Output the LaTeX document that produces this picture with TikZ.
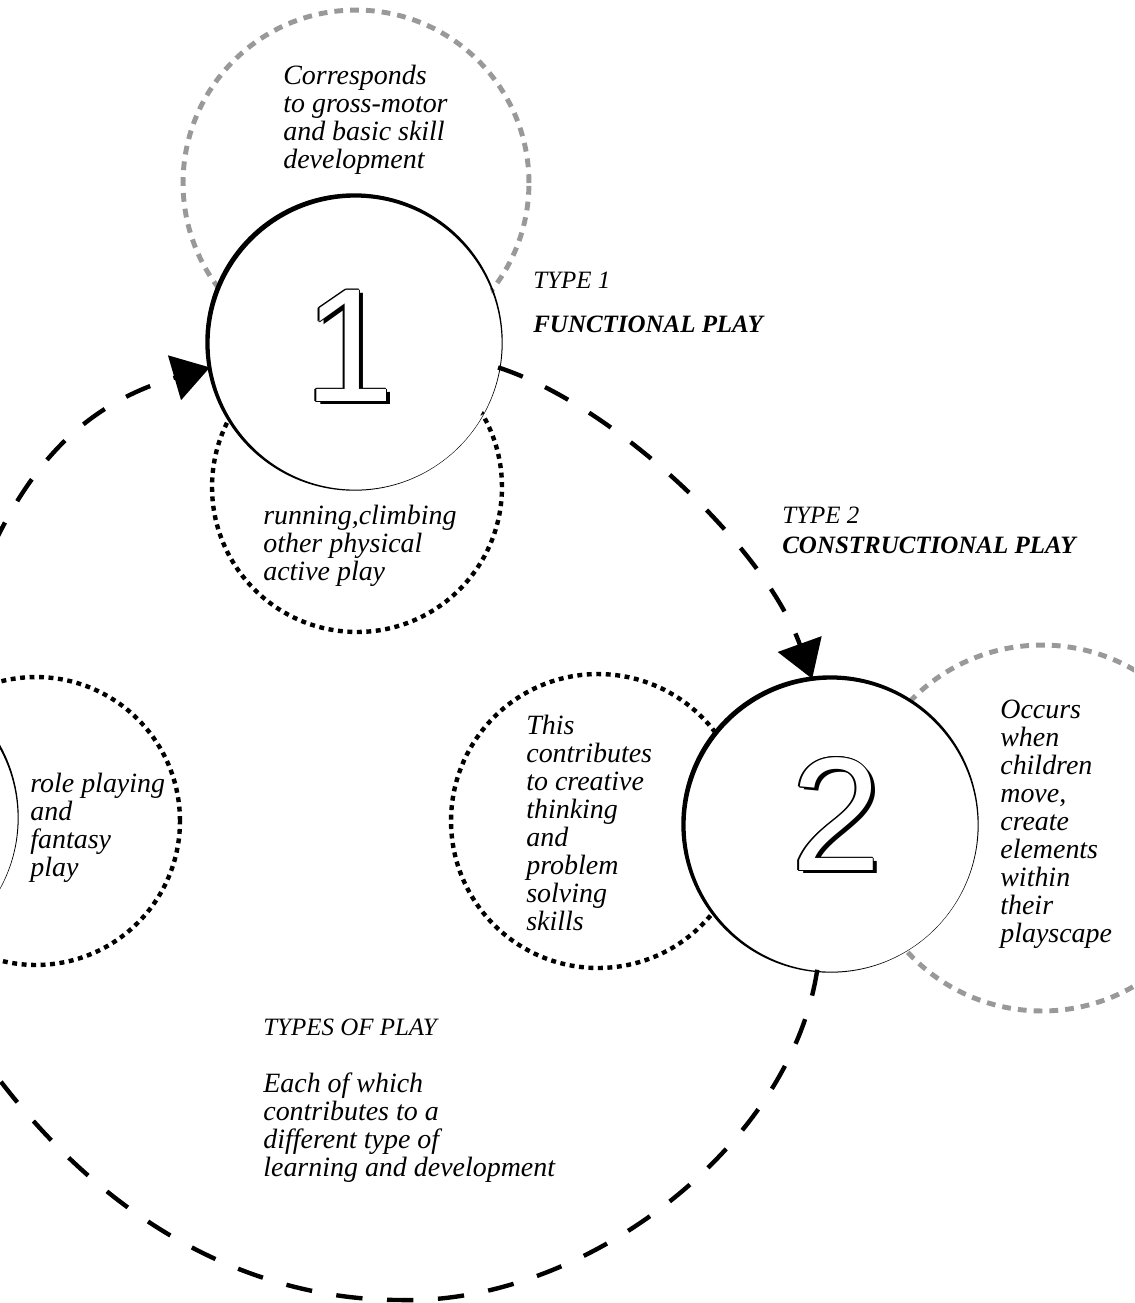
\documentclass[tikz,border=0pt]{standalone}
\usepackage{fontspec}
\setmainfont{Liberation Serif}
\newfontfamily\numfont{Liberation Sans}
\usetikzlibrary{arrows.meta, calc}

\newcommand{\ringstroke}[2]{%
  \fill[even odd rule] (#1) circle[radius=#2+2.7] ($(#1)+(1.63,1.63)$) circle[radius=#2];
}
\newcommand{\bignum}[3]{%
  \node[digit, text=black] (#1s) at ($#2+(4,3)$) {#3};
  \foreach \a in {0,45,...,315}
    \node[digit, text=black] (#1o\a) at ($#2+(\a:1.1)$) {#3};
  \node[digit, text=white] (#1) at ($#2$) {#3};
}

\begin{document}
\begin{tikzpicture}[x=0.02cm, y=-0.02cm,
    mainring/.style={circle, fill=white, inner sep=0pt, minimum size=5.84cm},
    dotring/.style={circle, draw, line width=2.5pt, dash pattern=on 2.8pt off 2.6pt, inner sep=0pt},
    grayring/.style={circle, draw=black!40, line width=2.8pt, dash pattern=on 5pt off 4pt, inner sep=0pt},
    flow/.style={line width=2.5pt, dash pattern=on 15pt off 14pt},
    tip/.style={-{Triangle[length=21pt, width=26pt]}},
    note/.style={font=\itshape\fontsize{15.9}{15.9}\selectfont, align=left, anchor=base west, inner sep=0pt},
    tag/.style={font=\itshape\fontsize{14.2}{17}\selectfont, align=left, anchor=base west, inner sep=0pt},
    digit/.style={font=\numfont\fontsize{92}{92}\selectfont, inner sep=0pt}
]
\useasboundingbox (0,0) rectangle (1134,1303);
\clip (0,0) rectangle (1134,1303);

\node[grayring, minimum size=6.92cm] (topc) at (356,183) {};
\node[dotring, minimum size=5.8cm] (runc) at (357,487) {};
\node[dotring, minimum size=5.88cm] (thinkc) at (598,821) {};
\node[grayring, minimum size=7.32cm] (movec) at (1042,828) {};
\node[dotring, minimum size=5.76cm] (rolec) at (36,821) {};

\node[mainring] (one) at (354,342) {};
\node[mainring] (two) at (830,824) {};
\node[mainring] (three) at (-130,817) {};
\ringstroke{one}{146}
\ringstroke{two}{146}
\ringstroke{three}{146}

\bignum{num1}{(one)+(-5,4)}{1}
\bignum{num2}{(two)+(6,-10)}{2}

\draw[flow, tip] (one.-10) .. controls (612,404) and (764,545) .. (two.97);
\draw[flow] (two.-95) .. controls (790,1150) and (580,1305) .. (400,1300)
  .. controls (250,1300) and (60,1220) .. (three.-70);
\draw[flow, tip] (three.60) .. controls (-6,495) and (64,410) .. (one.190);

\node[note] (corr) at (283,168) {Corresponds\\to gross-motor\\and basic skill\\development};
\node[tag] (type1) at (533,288) {TYPE 1};
\node[tag, font=\itshape\bfseries\fontsize{14.2}{17}\selectfont] (func) at (533,332) {FUNCTIONAL PLAY};
\node[note] (run) at (263,580) {running,climbing\\other physical\\active play};
\node[tag] (type2) at (782,553) {TYPE 2\\\textbf{CONSTRUCTIONAL PLAY}};
\node[note] (think) at (526,930) {This\\contributes\\to creative\\thinking\\and\\problem\\solving\\skills};
\node[note] (move) at (1000,942) {Occurs\\when\\children\\move,\\create\\elements\\within\\their\\playscape};
\node[note] (role) at (30,876) {role playing\\and\\fantasy\\play};
\node[tag] (types) at (263,1035) {TYPES OF PLAY};
\node[note] (each) at (263,1176) {Each of which\\contributes to a\\different type of\\learning and development};
\end{tikzpicture}
\end{document}
